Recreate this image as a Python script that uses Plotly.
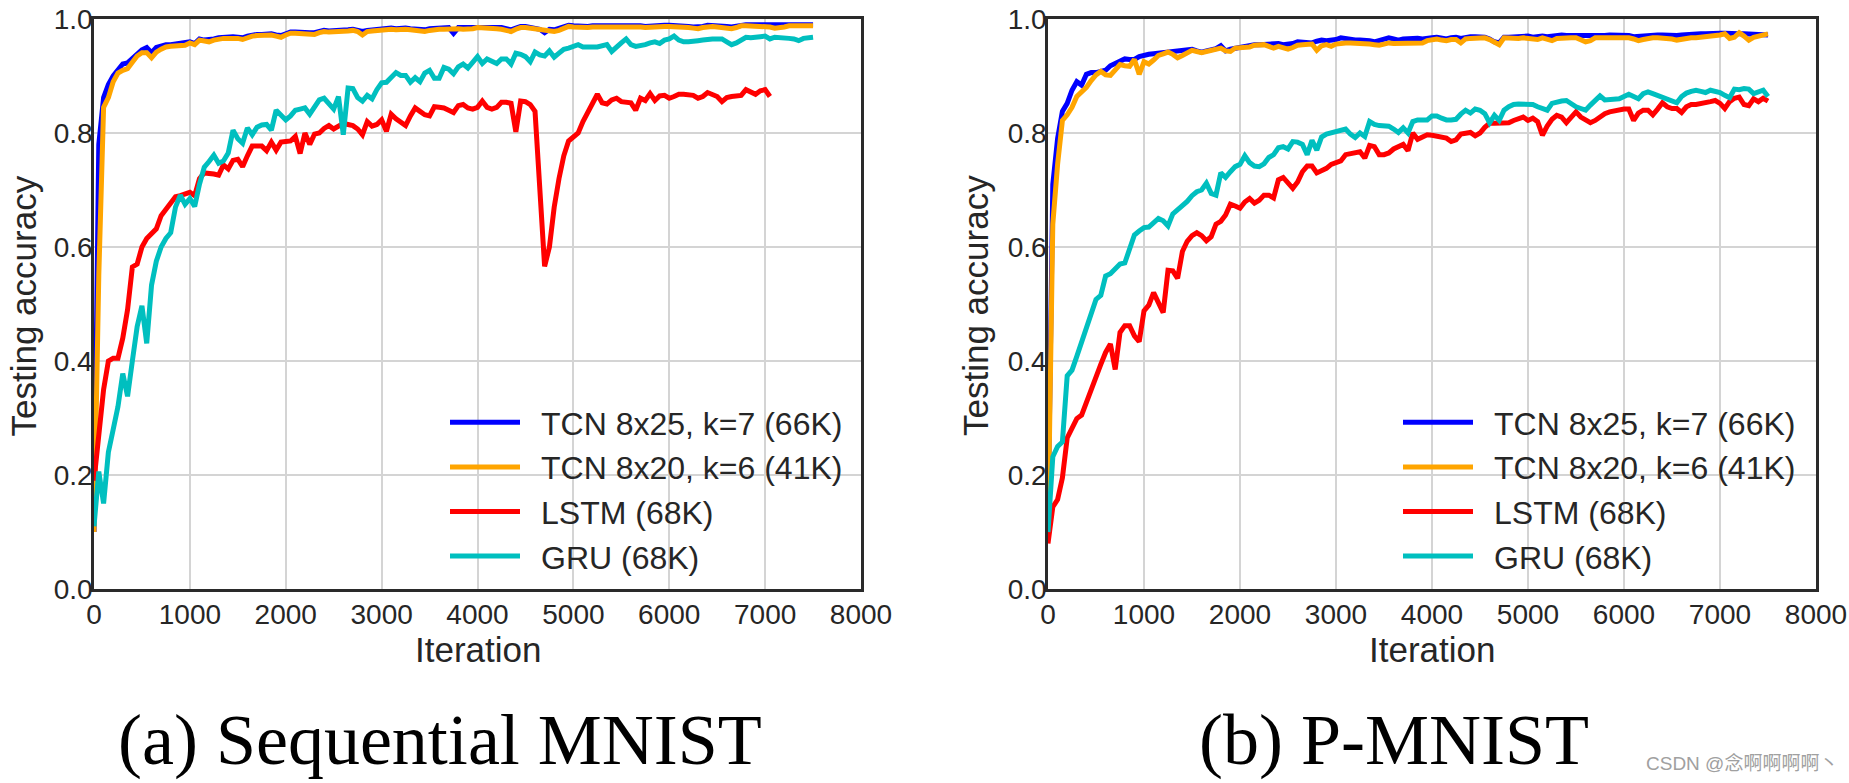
import plotly.graph_objects as go

W, H = 1849, 783

# ---------------- data (Testing accuracy vs Iteration) ----------------
iters = list(range(0, 7501, 50))          # logging every 50 iterations
iters_lstm_a = list(range(0, 7051, 50))   # LSTM run on Sequential MNIST stops earlier

labels = ["TCN 8x25, k=7 (66K)", "TCN 8x20, k=6 (41K)", "LSTM (68K)", "GRU (68K)"]
colors = ["#0000ff", "#ffa500", "#ff0000", "#00bfbf"]

# (a) Sequential MNIST
seq_tcn25 = [
    0.10, 0.78, 0.862, 0.885, 0.900, 0.911, 0.921, 0.923, 0.930, 0.938,
    0.946, 0.950, 0.941, 0.950, 0.953, 0.955, 0.955, 0.956, 0.957, 0.957,
    0.960, 0.957, 0.965, 0.963, 0.963, 0.965, 0.967, 0.968, 0.968, 0.969,
    0.968, 0.967, 0.970, 0.972, 0.973, 0.973, 0.974, 0.974, 0.972, 0.971,
    0.974, 0.977, 0.977, 0.976, 0.976, 0.976, 0.976, 0.978, 0.980, 0.979,
    0.979, 0.980, 0.980, 0.981, 0.982, 0.981, 0.978, 0.980, 0.981, 0.982,
    0.982, 0.983, 0.984, 0.983, 0.984, 0.984, 0.983, 0.982, 0.983, 0.981,
    0.983, 0.984, 0.984, 0.984, 0.985, 0.975, 0.985, 0.985, 0.985, 0.986,
    0.987, 0.987, 0.986, 0.985, 0.985, 0.985, 0.983, 0.981, 0.984, 0.987,
    0.987, 0.986, 0.985, 0.982, 0.976, 0.982, 0.981, 0.983, 0.986, 0.989,
    0.988, 0.987, 0.987, 0.987, 0.988, 0.988, 0.989, 0.989, 0.989, 0.989,
    0.989, 0.989, 0.990, 0.990, 0.988, 0.987, 0.988, 0.989, 0.989, 0.989,
    0.989, 0.989, 0.989, 0.988, 0.987, 0.986, 0.986, 0.987, 0.989, 0.989,
    0.988, 0.987, 0.987, 0.986, 0.988, 0.990, 0.990, 0.990, 0.990, 0.990,
    0.990, 0.989, 0.988, 0.988, 0.989, 0.990, 0.990, 0.990, 0.990, 0.990,
    0.990,
]
seq_tcn20 = [
    0.10, 0.55, 0.845, 0.862, 0.890, 0.905, 0.910, 0.913, 0.924, 0.935,
    0.941, 0.941, 0.932, 0.942, 0.947, 0.951, 0.952, 0.953, 0.954, 0.954,
    0.958, 0.955, 0.963, 0.962, 0.960, 0.963, 0.965, 0.966, 0.966, 0.967,
    0.966, 0.964, 0.968, 0.970, 0.971, 0.972, 0.972, 0.972, 0.970, 0.968,
    0.972, 0.975, 0.975, 0.974, 0.974, 0.974, 0.973, 0.976, 0.978, 0.977,
    0.977, 0.978, 0.978, 0.979, 0.980, 0.978, 0.972, 0.978, 0.979, 0.980,
    0.980, 0.981, 0.982, 0.981, 0.982, 0.982, 0.981, 0.980, 0.980, 0.978,
    0.980, 0.982, 0.982, 0.982, 0.983, 0.983, 0.983, 0.982, 0.982, 0.983,
    0.985, 0.985, 0.984, 0.983, 0.983, 0.982, 0.980, 0.978, 0.982, 0.985,
    0.985, 0.984, 0.983, 0.982, 0.980, 0.980, 0.978, 0.980, 0.984, 0.987,
    0.986, 0.985, 0.985, 0.985, 0.986, 0.986, 0.987, 0.987, 0.987, 0.987,
    0.987, 0.987, 0.988, 0.988, 0.986, 0.985, 0.986, 0.987, 0.987, 0.987,
    0.987, 0.987, 0.987, 0.986, 0.985, 0.984, 0.983, 0.985, 0.987, 0.987,
    0.986, 0.985, 0.984, 0.983, 0.985, 0.988, 0.988, 0.988, 0.988, 0.988,
    0.988, 0.986, 0.984, 0.984, 0.986, 0.988, 0.988, 0.987, 0.987, 0.988,
    0.988,
]
seq_lstm = [
    0.19, 0.27, 0.35, 0.40, 0.405, 0.405, 0.44, 0.49, 0.565, 0.57,
    0.60, 0.615, 0.625, 0.632, 0.655, 0.665, 0.675, 0.688, 0.690, 0.692,
    0.696, 0.690, 0.720, 0.730, 0.730, 0.728, 0.726, 0.744, 0.737, 0.752,
    0.754, 0.741, 0.760, 0.777, 0.777, 0.777, 0.769, 0.784, 0.770, 0.784,
    0.785, 0.786, 0.794, 0.764, 0.800, 0.780, 0.798, 0.800, 0.808, 0.813,
    0.807, 0.811, 0.817, 0.815, 0.813, 0.807, 0.797, 0.820, 0.812, 0.815,
    0.823, 0.803, 0.833, 0.825, 0.820, 0.813, 0.830, 0.844, 0.838, 0.832,
    0.830, 0.846, 0.845, 0.844, 0.840, 0.836, 0.848, 0.850, 0.844, 0.842,
    0.845, 0.856, 0.845, 0.842, 0.845, 0.854, 0.854, 0.852, 0.802, 0.856,
    0.855, 0.850, 0.838, 0.700, 0.566, 0.600, 0.670, 0.720, 0.760, 0.786,
    0.792, 0.800, 0.820, 0.836, 0.850, 0.868, 0.853, 0.851, 0.858, 0.861,
    0.855, 0.853, 0.853, 0.840, 0.861, 0.857, 0.869, 0.857, 0.865, 0.866,
    0.861, 0.864, 0.868, 0.868, 0.868, 0.866, 0.861, 0.864, 0.871, 0.868,
    0.864, 0.855, 0.862, 0.864, 0.864, 0.866, 0.876, 0.872, 0.868, 0.874,
    0.876, 0.864,
]
seq_gru = [
    0.11, 0.206, 0.15, 0.24, 0.28, 0.32, 0.378, 0.338, 0.40, 0.46,
    0.497, 0.431, 0.533, 0.575, 0.60, 0.615, 0.625, 0.670, 0.691, 0.675,
    0.685, 0.671, 0.71, 0.74, 0.75, 0.761, 0.747, 0.751, 0.765, 0.805,
    0.79, 0.782, 0.809, 0.797, 0.810, 0.814, 0.815, 0.805, 0.840, 0.83,
    0.823, 0.830, 0.840, 0.842, 0.844, 0.833, 0.846, 0.858, 0.861, 0.850,
    0.842, 0.864, 0.797, 0.879, 0.878, 0.862, 0.856, 0.866, 0.860, 0.876,
    0.888, 0.889, 0.898, 0.906, 0.901, 0.901, 0.889, 0.897, 0.890, 0.905,
    0.910, 0.896, 0.896, 0.915, 0.912, 0.904, 0.916, 0.921, 0.914, 0.925,
    0.934, 0.922, 0.930, 0.926, 0.922, 0.930, 0.930, 0.921, 0.940, 0.938,
    0.934, 0.925, 0.942, 0.937, 0.935, 0.944, 0.933, 0.940, 0.947, 0.949,
    0.952, 0.955, 0.951, 0.952, 0.951, 0.951, 0.953, 0.955, 0.943, 0.952,
    0.958, 0.965, 0.955, 0.952, 0.953, 0.955, 0.958, 0.960, 0.957, 0.963,
    0.965, 0.970, 0.963, 0.960, 0.960, 0.960, 0.962, 0.963, 0.965, 0.965,
    0.965, 0.965, 0.960, 0.955, 0.958, 0.963, 0.968, 0.967, 0.967, 0.969,
    0.970, 0.965, 0.968, 0.968, 0.967, 0.966, 0.965, 0.962, 0.966, 0.968,
    0.968,
]

# (b) P-MNIST
pm_tcn25 = [
    0.12, 0.71, 0.79, 0.838, 0.852, 0.875, 0.890, 0.884, 0.903, 0.906,
    0.906, 0.907, 0.910, 0.918, 0.922, 0.928, 0.930, 0.929, 0.929, 0.934,
    0.937, 0.938, 0.939, 0.940, 0.941, 0.940, 0.942, 0.944, 0.945, 0.946,
    0.947, 0.944, 0.942, 0.944, 0.946, 0.948, 0.953, 0.944, 0.947, 0.949,
    0.950, 0.951, 0.953, 0.955, 0.955, 0.956, 0.957, 0.958, 0.957, 0.955,
    0.955, 0.957, 0.960, 0.959, 0.958, 0.958, 0.961, 0.963, 0.962, 0.962,
    0.964, 0.967, 0.965, 0.963, 0.963, 0.963, 0.963, 0.962, 0.960, 0.963,
    0.965, 0.967, 0.965, 0.963, 0.965, 0.966, 0.967, 0.966, 0.965, 0.965,
    0.967, 0.968, 0.966, 0.965, 0.967, 0.968, 0.966, 0.968, 0.969, 0.969,
    0.969, 0.968, 0.965, 0.960, 0.958, 0.968, 0.968, 0.969, 0.969, 0.970,
    0.970, 0.968, 0.970, 0.970, 0.969, 0.970, 0.972, 0.972, 0.971, 0.971,
    0.971, 0.970, 0.969, 0.970, 0.971, 0.971, 0.971, 0.972, 0.972, 0.972,
    0.972, 0.971, 0.969, 0.970, 0.971, 0.972, 0.972, 0.972, 0.972, 0.971,
    0.970, 0.971, 0.972, 0.973, 0.974, 0.974, 0.974, 0.974, 0.975, 0.975,
    0.975, 0.975, 0.974, 0.973, 0.974, 0.974, 0.974, 0.973, 0.974, 0.974,
    0.972,
]
pm_tcn20 = [
    0.10, 0.64, 0.745, 0.822, 0.832, 0.845, 0.864, 0.871, 0.880, 0.892,
    0.902, 0.908, 0.902, 0.901, 0.912, 0.920, 0.918, 0.917, 0.929, 0.903,
    0.925, 0.921, 0.928, 0.936, 0.939, 0.942, 0.938, 0.932, 0.936, 0.940,
    0.945, 0.943, 0.941, 0.943, 0.945, 0.947, 0.949, 0.944, 0.943, 0.949,
    0.949, 0.949, 0.951, 0.954, 0.955, 0.955, 0.952, 0.949, 0.952, 0.950,
    0.947, 0.950, 0.954, 0.955, 0.955, 0.956, 0.945, 0.953, 0.955, 0.952,
    0.956, 0.958, 0.958, 0.958, 0.958, 0.957, 0.956, 0.956, 0.955, 0.954,
    0.956, 0.958, 0.957, 0.957, 0.956, 0.956, 0.957, 0.958, 0.958, 0.962,
    0.964, 0.965, 0.963, 0.962, 0.964, 0.964, 0.958, 0.965, 0.966, 0.967,
    0.967, 0.967, 0.964, 0.960, 0.955, 0.967, 0.966, 0.965, 0.966, 0.967,
    0.966, 0.963, 0.964, 0.967, 0.964, 0.962, 0.966, 0.967, 0.967, 0.967,
    0.967, 0.964, 0.960, 0.962, 0.967, 0.967, 0.967, 0.967, 0.967, 0.968,
    0.968, 0.967, 0.965, 0.962, 0.964, 0.966, 0.967, 0.967, 0.967, 0.967,
    0.965, 0.963, 0.965, 0.966, 0.967, 0.967, 0.968, 0.968, 0.968, 0.970,
    0.972, 0.974, 0.966, 0.968, 0.976, 0.970, 0.963, 0.968, 0.970, 0.972,
    0.974,
]
pm_lstm = [
    0.080, 0.144, 0.157, 0.195, 0.265, 0.283, 0.299, 0.305, 0.328, 0.352,
    0.376, 0.394, 0.415, 0.430, 0.385, 0.450, 0.462, 0.462, 0.444, 0.434,
    0.488, 0.498, 0.520, 0.500, 0.485, 0.559, 0.558, 0.545, 0.592, 0.610,
    0.620, 0.625, 0.620, 0.611, 0.618, 0.640, 0.645, 0.656, 0.675, 0.672,
    0.668, 0.679, 0.685, 0.677, 0.682, 0.691, 0.691, 0.686, 0.718, 0.722,
    0.714, 0.703, 0.714, 0.732, 0.742, 0.742, 0.730, 0.733, 0.738, 0.745,
    0.748, 0.751, 0.762, 0.764, 0.765, 0.767, 0.756, 0.778, 0.776, 0.762,
    0.762, 0.765, 0.772, 0.776, 0.780, 0.769, 0.800, 0.789, 0.793, 0.797,
    0.796, 0.794, 0.793, 0.791, 0.785, 0.788, 0.798, 0.800, 0.801, 0.795,
    0.800, 0.810, 0.817, 0.817, 0.817, 0.818, 0.818, 0.822, 0.826, 0.828,
    0.822, 0.826, 0.820, 0.796, 0.812, 0.824, 0.831, 0.828, 0.818, 0.828,
    0.837, 0.828, 0.822, 0.818, 0.822, 0.828, 0.834, 0.837, 0.839, 0.840,
    0.842, 0.842, 0.822, 0.835, 0.840, 0.840, 0.832, 0.842, 0.853, 0.846,
    0.843, 0.843, 0.836, 0.846, 0.850, 0.850, 0.851, 0.853, 0.855, 0.857,
    0.852, 0.843, 0.855, 0.861, 0.863, 0.850, 0.848, 0.860, 0.855, 0.861,
    0.856,
]
pm_gru = [
    0.10, 0.232, 0.250, 0.258, 0.374, 0.384, 0.408, 0.434, 0.455, 0.480,
    0.508, 0.515, 0.549, 0.553, 0.562, 0.570, 0.572, 0.600, 0.621, 0.628,
    0.634, 0.635, 0.642, 0.650, 0.646, 0.637, 0.658, 0.665, 0.671, 0.680,
    0.690, 0.697, 0.700, 0.712, 0.694, 0.691, 0.730, 0.722, 0.732, 0.741,
    0.745, 0.760, 0.748, 0.742, 0.741, 0.746, 0.757, 0.762, 0.774, 0.776,
    0.772, 0.785, 0.784, 0.780, 0.762, 0.787, 0.770, 0.793, 0.798, 0.800,
    0.802, 0.804, 0.807, 0.798, 0.792, 0.800, 0.794, 0.820, 0.815, 0.813,
    0.813, 0.812, 0.807, 0.801, 0.809, 0.800, 0.820, 0.823, 0.823, 0.823,
    0.830, 0.830, 0.826, 0.823, 0.823, 0.824, 0.833, 0.840, 0.835, 0.842,
    0.840, 0.834, 0.818, 0.831, 0.822, 0.840, 0.846, 0.850, 0.851, 0.851,
    0.851, 0.850, 0.846, 0.843, 0.840, 0.852, 0.855, 0.856, 0.857, 0.851,
    0.846, 0.843, 0.840, 0.849, 0.858, 0.865, 0.858, 0.859, 0.860, 0.860,
    0.864, 0.868, 0.864, 0.860, 0.869, 0.872, 0.869, 0.866, 0.862, 0.860,
    0.858, 0.853, 0.864, 0.870, 0.873, 0.875, 0.873, 0.871, 0.875, 0.874,
    0.871, 0.866, 0.862, 0.877, 0.876, 0.878, 0.877, 0.869, 0.873, 0.875,
    0.864,
]

x_ticks = [0, 1000, 2000, 3000, 4000, 5000, 6000, 7000, 8000]
y_ticks = [0.0, 0.2, 0.4, 0.6, 0.8, 1.0]
y_ticktext = ["0.0", "0.2", "0.4", "0.6", "0.8", "1.0"]
subtitles = ["(a) Sequential MNIST", "(b) P-MNIST"]

# ---------------- figure ----------------
fig = go.Figure()

GAP = "\u2002"  # small gap between legend line and its label
panels = [
    ("x", "y", "legend", [(iters, seq_tcn25), (iters, seq_tcn20), (iters_lstm_a, seq_lstm), (iters, seq_gru)]),
    ("x2", "y2", "legend2", [(iters, pm_tcn25), (iters, pm_tcn20), (iters, pm_lstm), (iters, pm_gru)]),
]
for xa, ya, lg, series in panels:
    for (xs, ys), name, col in zip(series, labels, colors):
        fig.add_trace(go.Scatter(
            x=xs, y=ys, mode="lines", name=GAP + name, xaxis=xa, yaxis=ya, legend=lg,
            line=dict(color=col, width=5), showlegend=True,
        ))

def px_x(p):
    return p / W

def px_y(p):
    return 1 - p / H

TXT = "#262626"
FONT = "Liberation Sans, Arial, sans-serif"

axis_common = dict(
    showgrid=True, gridcolor="#d4d4d4", gridwidth=1.6,
    showline=True, mirror=True, linecolor="#2a2a2a", linewidth=2.6,
    zeroline=False, ticks="", automargin=False,
    tickfont=dict(family=FONT, size=28, color=TXT),
)

left_dom = [px_x(94), px_x(861)]
right_dom = [px_x(1048), px_x(1816)]
y_dom = [px_y(589), px_y(19)]

legend_common = dict(xanchor="left", yanchor="top", bgcolor="rgba(0,0,0,0)", borderwidth=0,
                     itemwidth=70, font=dict(family=FONT, size=32, color=TXT), tracegroupgap=0)

fig.update_layout(
    width=W, height=H, autosize=False,
    margin=dict(l=0, r=0, t=0, b=0, autoexpand=False),
    paper_bgcolor="white", plot_bgcolor="white",
    xaxis=dict(domain=left_dom, range=[0, 8000], tickvals=x_ticks, anchor="y",
               ticklabelstandoff=-1, **axis_common),
    yaxis=dict(domain=y_dom, range=[0, 1.0], tickvals=y_ticks, ticktext=y_ticktext,
               anchor="x", ticklabelstandoff=-7, **axis_common),
    xaxis2=dict(domain=right_dom, range=[0, 8000], tickvals=x_ticks, anchor="y2",
                ticklabelstandoff=-1, **axis_common),
    yaxis2=dict(domain=y_dom, range=[0, 1.0], tickvals=y_ticks, ticktext=y_ticktext,
                anchor="x2", ticklabelstandoff=-7, **axis_common),
    legend=dict(x=px_x(445), y=px_y(395), **legend_common),
    legend2=dict(x=px_x(1398), y=px_y(395), **legend_common),
    showlegend=True,
)

annotations = []
for cx, ox in [(477.5, 22.5), (1432, 975)]:
    annotations.append(dict(text="Iteration", x=px_x(cx), y=px_y(649), xref="paper", yref="paper",
                            xanchor="center", yanchor="middle", showarrow=False,
                            font=dict(family=FONT, size=35, color=TXT)))
    annotations.append(dict(text="Testing accuracy", x=px_x(ox), y=px_y(306), xref="paper", yref="paper",
                            xanchor="center", yanchor="middle", showarrow=False, textangle=-90,
                            font=dict(family=FONT, size=35, color=TXT)))
for cx, txt in zip([440, 1394], subtitles):
    annotations.append(dict(text=txt, x=px_x(cx), y=px_y(740), xref="paper", yref="paper",
                            xanchor="center", yanchor="middle", showarrow=False,
                            font=dict(family="Liberation Serif, Times New Roman, serif", size=72, color="black")))
annotations.append(dict(text="CSDN @念啊啊啊啊丶", x=px_x(1840), y=px_y(763), xref="paper", yref="paper",
                        xanchor="right", yanchor="middle", showarrow=False,
                        font=dict(family="Liberation Sans, Noto Sans CJK SC, sans-serif", size=19, color="#a0a0a0")))
fig.update_layout(annotations=annotations)

fig.write_html(
    "out.html",
    config={"displayModeBar": False},
    post_script="document.body.style.margin='0';document.body.style.overflow='hidden';",
)
